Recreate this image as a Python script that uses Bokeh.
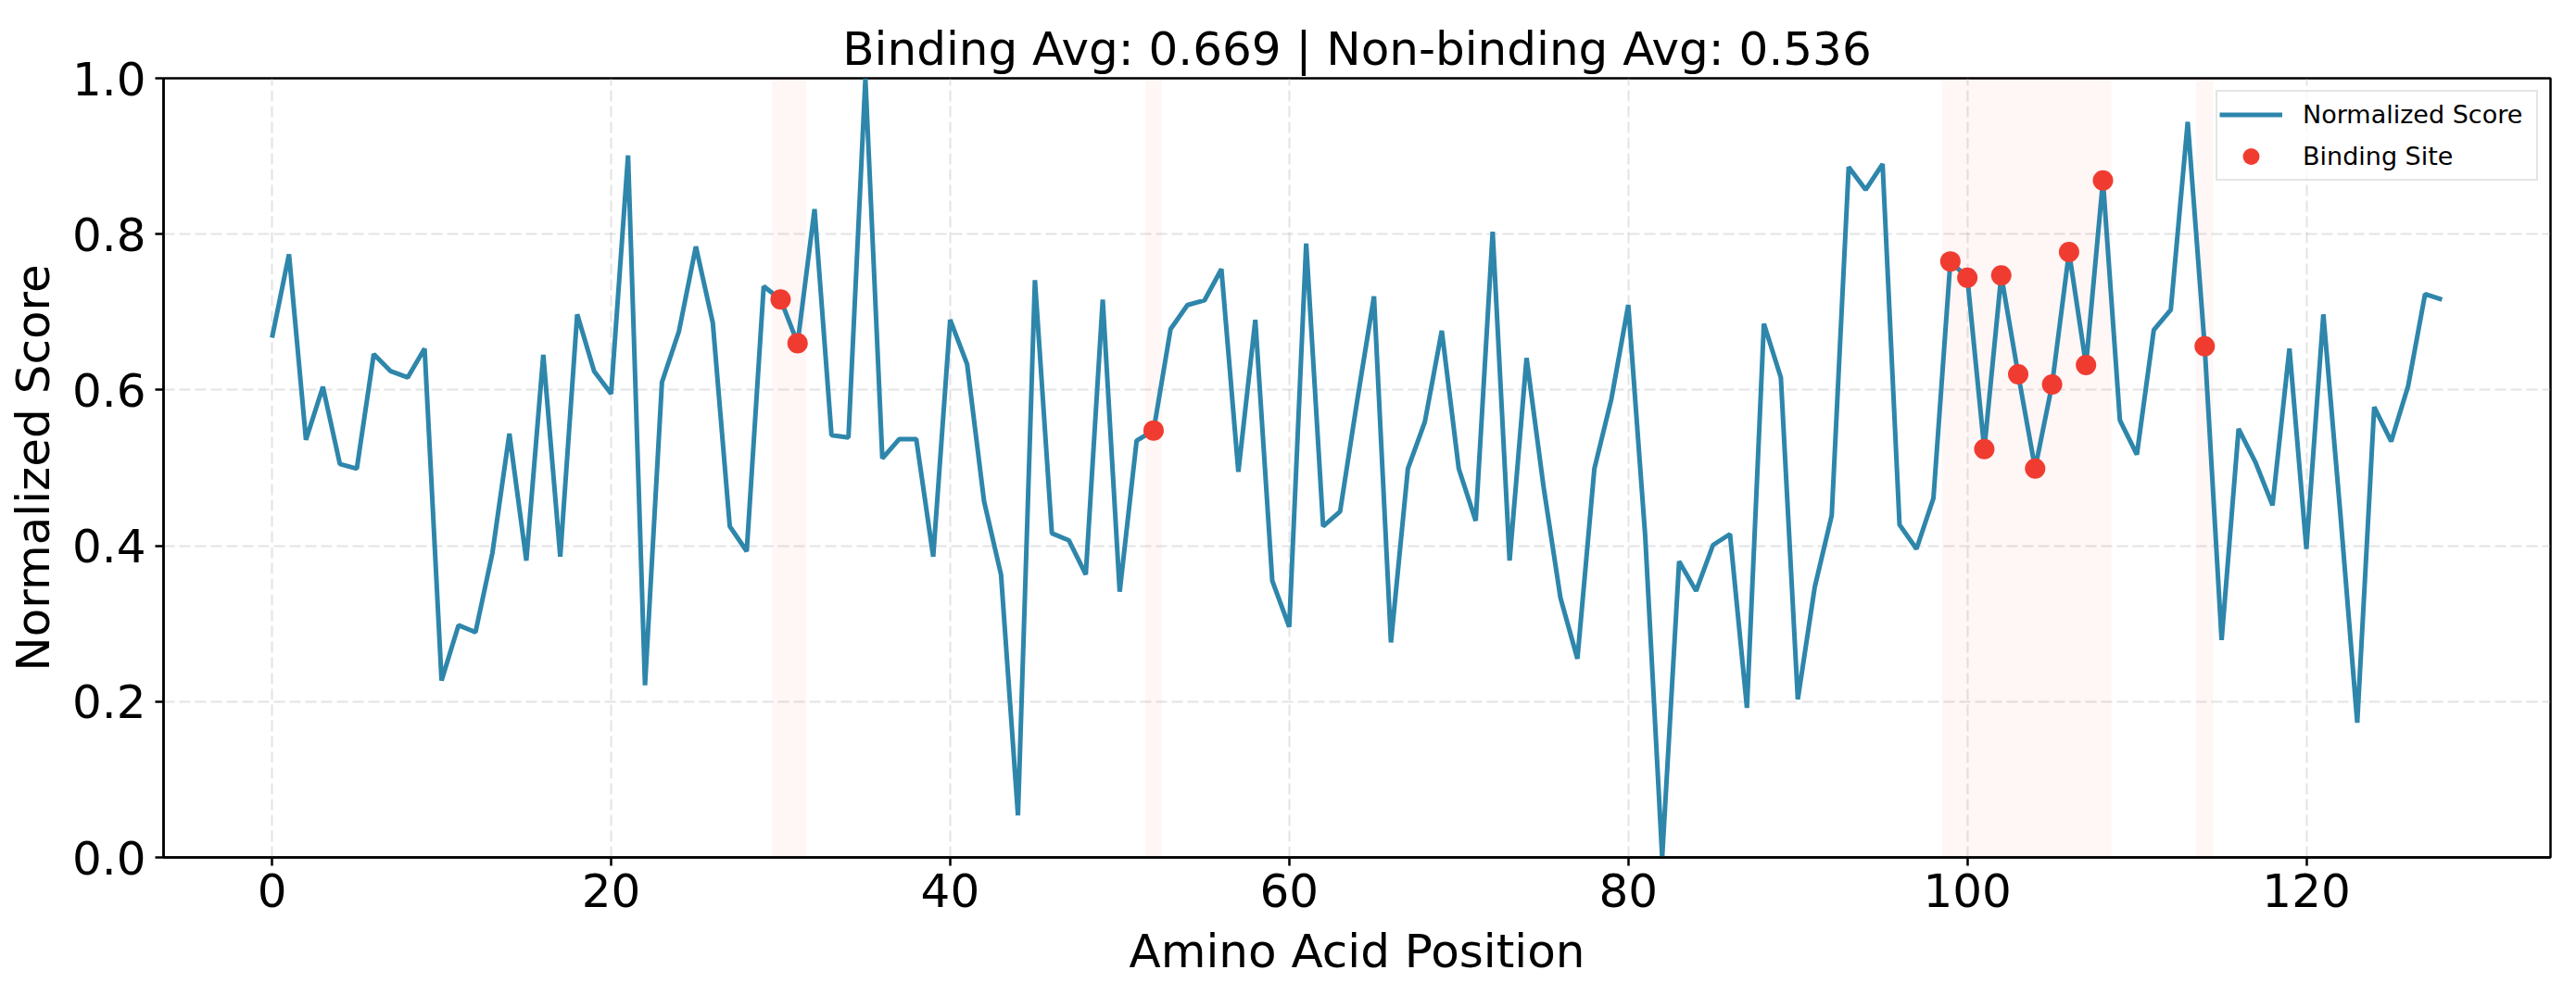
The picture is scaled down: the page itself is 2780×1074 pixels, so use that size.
from bokeh.plotting import figure
from bokeh.models import Range1d, FixedTicker, PrintfTickFormatter, BoxAnnotation, Legend, LegendItem
from bokeh.embed import file_html
from bokeh.resources import INLINE

# ---- data ----
positions = list(range(129))
scores = [
    0.667, 0.774, 0.536, 0.604, 0.505, 0.499, 0.646, 0.624, 0.616, 0.653,
    0.227, 0.298, 0.289, 0.391, 0.544, 0.381, 0.645, 0.386, 0.697, 0.624,
    0.595, 0.901, 0.221, 0.610, 0.675, 0.784, 0.686, 0.425, 0.393, 0.733,
    0.716, 0.660, 0.832, 0.542, 0.539, 1.000, 0.512, 0.537, 0.537, 0.386,
    0.690, 0.633, 0.457, 0.363, 0.054, 0.741, 0.416, 0.407, 0.363, 0.716,
    0.341, 0.535, 0.548, 0.678, 0.709, 0.715, 0.755, 0.495, 0.690, 0.355,
    0.296, 0.788, 0.425, 0.444, 0.585, 0.720, 0.276, 0.499, 0.559, 0.676,
    0.499, 0.432, 0.803, 0.381, 0.641, 0.476, 0.333, 0.255, 0.499, 0.588,
    0.709, 0.412, 0.000, 0.380, 0.342, 0.401, 0.415, 0.192, 0.685, 0.616,
    0.203, 0.347, 0.439, 0.886, 0.857, 0.890, 0.427, 0.396, 0.461, 0.765,
    0.744, 0.524, 0.747, 0.620, 0.499, 0.607, 0.777, 0.632, 0.869, 0.561,
    0.517, 0.677, 0.703, 0.944, 0.656, 0.279, 0.550, 0.507, 0.452, 0.653,
    0.396, 0.697, 0.442, 0.173, 0.578, 0.534, 0.605, 0.723, 0.716,
]
binding_positions = [30, 31, 52, 99, 100, 101, 102, 103, 104, 105, 106, 107, 108, 114]
title_text = "Binding Avg: 0.669 | Non-binding Avg: 0.536"
x_ticks = [0, 20, 40, 60, 80, 100, 120]
y_ticks = [0.0, 0.2, 0.4, 0.6, 0.8, 1.0]

binding_scores = [scores[i] for i in binding_positions]

# group consecutive binding positions into shaded regions
regions = []
for pos in binding_positions:
    if regions and pos == regions[-1][1] + 1:
        regions[-1][1] = pos
    else:
        regions.append([pos, pos])

FONT = "DejaVu Sans"
LINE_COLOR = "#2E86AB"
DOT_COLOR = "#F03C30"

p = figure(width=2764, height=1058, output_backend="svg", toolbar_location=None,
           x_range=Range1d(-6.4, 134.4), y_range=Range1d(0, 1),
           min_border_left=176, min_border_right=12, min_border_top=84, min_border_bottom=129,
           title=title_text)

p.title.text_font = FONT
p.title.text_font_size = "50px"
p.title.text_font_style = "normal"
p.title.align = "center"
p.title.text_color = "black"
p.title.standoff = 5

for start, end in regions:
    p.add_layout(BoxAnnotation(left=start - 0.5, right=end + 0.5,
                               fill_color="#ff0000", fill_alpha=0.035,
                               line_color=None, level="underlay"))

r_line = p.line(positions, scores, line_color=LINE_COLOR, line_width=5)
r_dot = p.scatter(binding_positions, binding_scores, marker="circle", size=22,
                  fill_color=DOT_COLOR, line_color=DOT_COLOR, line_width=0)

# axes
p.xaxis.ticker = FixedTicker(ticks=x_ticks)
p.yaxis.ticker = FixedTicker(ticks=y_ticks)
p.yaxis.formatter = PrintfTickFormatter(format="%.1f")
p.xaxis.axis_label = "Amino Acid Position"
p.yaxis.axis_label = "Normalized Score"
for ax in (p.xaxis, p.yaxis):
    ax.axis_label_text_font = FONT
    ax.axis_label_text_font_size = "50px"
    ax.axis_label_text_font_style = "normal"
    ax.axis_label_text_color = "black"
    ax.major_label_text_font = FONT
    ax.major_label_text_font_size = "50px"
    ax.major_label_text_color = "black"
    ax.axis_line_color = "black"
    ax.axis_line_width = 2.5
    ax.major_tick_line_color = "black"
    ax.major_tick_line_width = 2.5
    ax.major_tick_out = 9
    ax.major_tick_in = 0
    ax.minor_tick_line_color = None
p.xaxis.major_label_standoff = 8
p.xaxis.axis_label_standoff = 16
p.yaxis.major_label_standoff = 10
p.yaxis.axis_label_standoff = 10

p.outline_line_color = "black"
p.outline_line_width = 2.5
p.outline_line_alpha = 1

for g in (p.xgrid, p.ygrid):
    g.grid_line_color = "#b0b0b0"
    g.grid_line_alpha = 0.35
    g.grid_line_width = 2
    g.grid_line_dash = "12 5"
p.xgrid.ticker = FixedTicker(ticks=x_ticks)
p.ygrid.ticker = FixedTicker(ticks=y_ticks)

legend = Legend(items=[LegendItem(label="Normalized Score", renderers=[r_line]),
                       LegendItem(label="Binding Site", renderers=[r_dot])],
                location="top_right")
legend.label_text_font = FONT
legend.label_text_font_size = "27px"
legend.label_text_color = "black"
legend.glyph_width = 68
legend.glyph_height = 45
legend.label_height = 30
legend.label_width = 250
legend.label_standoff = 22
legend.spacing = -1
legend.padding = 2
legend.margin = 13
legend.border_line_color = "#cccccc"
legend.border_line_width = 2
legend.background_fill_alpha = 0.8
p.add_layout(legend)

p.background_fill_color = "white"
p.border_fill_color = "white"

open("out.html", "w").write(file_html(p, INLINE))
